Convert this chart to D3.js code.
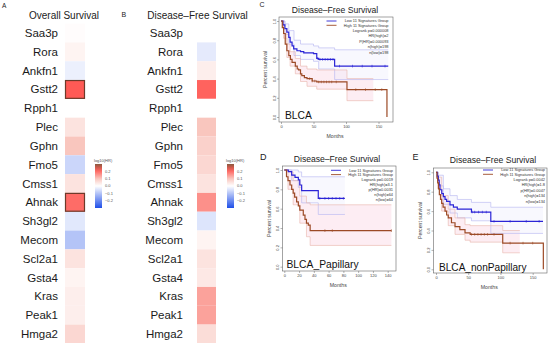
<!DOCTYPE html>
<html>
<head>
<meta charset="utf-8">
<script src="https://cdn.jsdelivr.net/npm/d3@7"></script>
<style>
  body { margin: 0; background: #fff; }
  svg { font-family: "Liberation Sans", Arial, sans-serif; }
</style>
</head>
<body>
<svg width="550" height="343"></svg>
<script>
// ---- heatmap data ----
var genes = ["Saa3p","Rora","Ankfn1","Gstt2","Rpph1","Plec","Gphn","Fmo5","Cmss1","Ahnak","Sh3gl2","Mecom","Scl2a1","Gsta4","Kras","Peak1","Hmga2"];
var osLogHR  = [0.005, 0.02, -0.025, 0.22, 0.0, 0.05, 0.1, -0.07, 0.05, 0.2, -0.04, -0.1, 0.05, 0.02, 0.03, 0.03, 0.07];
var dfsLogHR = [0.0, -0.035, 0.03, 0.21, 0.0, 0.1, 0.08, 0.07, 0.05, 0.16, -0.045, 0.02, 0.05, 0.04, 0.14, 0.14, 0.06];
var osSignif = ["Gstt2", "Ahnak"];
var legendTicks = [0.2, 0.1, 0.0, -0.1, -0.2];

// ---- survival data: [months, survival] steps ----
var cLow  = [[0,1],[3,0.96],[6,0.92],[9,0.885],[12,0.83],[14,0.78],[17,0.74],[19.5,0.71],[24.5,0.69],[30,0.68],[35,0.667],[50,0.66],[55,0.61],[58,0.6],[82.5,0.53],[165,0.53]];
var cHigh = [[0,1],[2,0.93],[4,0.87],[6.5,0.76],[9,0.69],[12,0.64],[14.5,0.6],[17,0.57],[22,0.53],[25,0.5],[27,0.49],[30,0.45],[32,0.43],[36,0.41],[40,0.4],[48,0.375],[55,0.365],[101.5,0.285],[163,0]];
// [months, lower, upper]
var cLowCI  = [[0,1,1],[6,0.86,0.97],[12,0.76,0.9],[20,0.64,0.8],[30,0.6,0.76],[50,0.58,0.74],[58,0.5,0.72],[82.5,0.39,0.7],[165,0.39,0.7]];
var cHighCI = [[0,1,1],[4,0.82,0.92],[9,0.62,0.76],[14,0.53,0.68],[22,0.45,0.61],[30,0.37,0.53],[40,0.32,0.5],[55,0.29,0.49],[101.5,0.17,0.4],[142,0.17,0.4]];
var cLowCens  = [56,60,64,68,72,76,80,90,110,125,140,160];
var cHighCens = [44,48,52,58,62,66,70,74,78,85,115,130,145,155];

var dLow  = [[0,1],[5.4,0.983],[10,0.948],[14.5,0.924],[19,0.897],[21,0.845],[23.5,0.786],[46,0.707],[82,0.707]];
var dHigh = [[0,1],[3,0.93],[5,0.89],[7.7,0.845],[10,0.8],[12,0.76],[14,0.72],[16.7,0.67],[19,0.63],[21,0.586],[25.7,0.534],[28,0.49],[30,0.45],[32.5,0.43],[35,0.373],[145,0.373]];
var dLowCI  = [[0,1,1],[10,0.89,1],[19,0.82,0.98],[23.5,0.66,0.93],[46,0.54,0.93],[82,0.54,0.93]];
var dHighCI = [[0,1,1],[5,0.8,0.98],[12,0.64,0.89],[21,0.45,0.73],[30,0.31,0.66],[35,0.22,0.64],[145,0.22,0.64]];
var dLowCens  = [48,55,60,65,70,75,80];
var dHighCens = [55,65,145];

var eLow  = [[0,1],[2,0.96],[3.6,0.92],[5,0.87],[6.2,0.82],[9,0.78],[11.4,0.75],[14,0.72],[16.5,0.7],[21.7,0.665],[27,0.64],[33,0.62],[55,0.59],[85,0.495],[166,0.495]];
var eHigh = [[0,1],[1.5,0.94],[2.6,0.89],[4,0.83],[5.2,0.77],[7,0.72],[8.8,0.68],[11,0.64],[14,0.6],[16.5,0.56],[19,0.53],[24,0.48],[29.5,0.44],[37,0.41],[45,0.375],[53,0.36],[103.5,0.27],[166.5,0]];
var eLowCI  = [[0,1,1],[3.6,0.86,0.97],[11.4,0.67,0.83],[21.7,0.58,0.76],[33,0.53,0.72],[55,0.5,0.69],[85,0.37,0.64],[166,0.37,0.64]];
var eHighCI = [[0,1,1],[2.6,0.83,0.95],[8.8,0.6,0.76],[19,0.45,0.62],[29.5,0.36,0.53],[45,0.3,0.46],[53,0.28,0.45],[103.5,0.17,0.4],[130,0.17,0.4]];
var eLowCens  = [56,60,66,72,78,90,115,140,160];
var eHighCens = [55,60,65,70,75,80,90,115,135,150];

var legendNames = ["Low 11 Signatures Group", "High 11 Signatures Group"];
var cStats = ["Logrank p=0.000008", "HR(high)=2", "P(HR)=0.000093", "n(high)=198", "n(low)=198"];
var dStats = ["Logrank p=0.0019", "HR(high)=3.1", "p(HR)=0.0031", "n(high)=64", "n(low)=64"];
var eStats = ["Logrank p=0.0042", "HR(high)=1.8", "p(HR)=0.0047", "n(high)=134", "n(low)=134"];
var survTicks = [0, 0.2, 0.4, 0.6, 0.8, 1.0];

var svg = d3.select("svg");

/* colour scale for log10(HR) */
var color = d3.scaleLinear()
    .domain([-0.3, 0, 0.1, 0.22, 0.3])
    .range(["#1f4fe8", "#ffffff", "#f9c6be", "#ff5a55", "#8a5a40"]);

var rowY = d3.scaleBand().domain(genes).range([23.6, 343.4]);

function heatmap(x0, x1, labelX, values, signif) {
    var g = svg.append("g");
    g.selectAll("rect").data(genes).enter().append("rect")
        .attr("x", x0)
        .attr("y", function(d) { return rowY(d); })
        .attr("width", x1 - x0)
        .attr("height", rowY.bandwidth())
        .attr("fill", function(d, i) { return color(values[i]); });
    g.selectAll("rect.sig").data(genes.filter(function(d) { return signif.indexOf(d) >= 0; }))
        .enter().append("rect")
        .attr("x", x0 + 0.5)
        .attr("y", function(d) { return rowY(d) + 0.5; })
        .attr("width", x1 - x0 - 1)
        .attr("height", rowY.bandwidth() - 1)
        .attr("fill", "none")
        .attr("stroke", "#6e3a2a")
        .attr("stroke-width", 1.2);
    g.selectAll("text").data(genes).enter().append("text")
        .attr("x", labelX)
        .attr("y", function(d) { return rowY(d) + rowY.bandwidth() / 2 + 4; })
        .attr("text-anchor", "end")
        .attr("font-size", 11.5)
        .attr("fill", "#1a1a1a")
        .text(function(d) { return d; });
}

heatmap(65, 85, 58, osLogHR, osSignif);
heatmap(197, 216, 183, dfsLogHR, []);

/* colour bar legends */
var defs = svg.append("defs");
var grad = defs.append("linearGradient").attr("id", "cbar")
    .attr("x1", 0).attr("y1", 0).attr("x2", 0).attr("y2", 1);
d3.range(0.3, -0.31, -0.05).forEach(function(v, i, arr) {
    grad.append("stop").attr("offset", i / (arr.length - 1)).attr("stop-color", color(v));
});
var barY = d3.scaleLinear().domain([-0.3, 0.3]).range([208, 164]);

function colorLegend(x) {
    var g = svg.append("g");
    g.append("text").attr("x", x - 1).attr("y", 162).attr("font-size", 4).attr("fill", "#555").text("log10(HR)");
    g.append("rect").attr("x", x).attr("y", barY(0.3)).attr("width", 7).attr("height", barY(-0.3) - barY(0.3))
        .attr("fill", "url(#cbar)");
    g.selectAll("text.t").data(legendTicks).enter().append("text")
        .attr("x", x + 10)
        .attr("y", function(d) { return barY(d) + 1.4; })
        .attr("font-size", 4)
        .attr("fill", "#555")
        .text(function(d) { return d3.format(".1f")(d).replace("-", "\u2212"); });
}
colorLegend(95);
colorLegend(227);

/* titles and panel letters */
function label(x, y, size, txt, anchor) {
    svg.append("text").attr("x", x).attr("y", y).attr("font-size", size)
        .attr("text-anchor", anchor || "start").attr("fill", "#222").text(txt);
}
label(2, 7.5, 6.5, "A");
label(121.5, 17.3, 7, "B");
label(259.5, 7, 7, "C");
label(260, 160, 9, "D");
label(412.5, 160, 9, "E");
label(64, 18.5, 10, "Overall Survival", "middle");
label(197.5, 19, 10, "Disease\u2013Free Survival", "middle");
label(335, 13, 8.6, "Disease\u2013Free Survival", "middle");
label(337, 162.3, 8.6, "Disease\u2013Free Survival", "middle");
label(493, 162.7, 8.6, "Disease\u2013Free Survival", "middle");

/* Kaplan-Meier panels */
function stepValue(curve, m) {
    var v = curve[0][1];
    for (var i = 0; i < curve.length; i++) { if (curve[i][0] <= m) v = curve[i][1]; }
    return v;
}

function km(p) {
    var g = svg.append("g");
    var x = d3.scaleLinear().domain([0, p.xMax]).range([p.x0, p.x1]);
    var y = d3.scaleLinear().domain([0, 1]).range([p.y0, p.y1]);

    var ciArea = d3.area().curve(d3.curveStepAfter)
        .x(function(d) { return x(d[0]); }).y0(function(d) { return y(d[1]); }).y1(function(d) { return y(d[2]); });
    g.append("path").datum(p.highCI).attr("d", ciArea).attr("fill", "#fbd7e5").attr("opacity", 0.45);
    g.append("path").datum(p.lowCI).attr("d", ciArea).attr("fill", "#ebebfb").attr("opacity", 0.35);

    var ciLine = function(k) {
        return d3.line().curve(d3.curveStepAfter).x(function(d) { return x(d[0]); }).y(function(d) { return y(d[k]); });
    };
    [1, 2].forEach(function(k) {
        g.append("path").datum(p.lowCI).attr("d", ciLine(k)).attr("fill", "none")
            .attr("stroke", "#b4b4f0").attr("stroke-width", 0.6);
        g.append("path").datum(p.highCI).attr("d", ciLine(k)).attr("fill", "none")
            .attr("stroke", "#e8b4aa").attr("stroke-width", 0.6);
    });

    var line = d3.line().curve(d3.curveStepAfter)
        .x(function(d) { return x(d[0]); }).y(function(d) { return y(d[1]); });
    g.append("path").datum(p.low).attr("d", line).attr("fill", "none").attr("stroke", "#2b24d6").attr("stroke-width", 1.2);
    g.append("path").datum(p.high).attr("d", line).attr("fill", "none").attr("stroke", "#9c4a26").attr("stroke-width", 1.2);

    g.selectAll("line.cl").data(p.lowCens).enter().append("line")
        .attr("x1", function(d) { return x(d); }).attr("x2", function(d) { return x(d); })
        .attr("y1", function(d) { return y(stepValue(p.low, d)) - 1.3; })
        .attr("y2", function(d) { return y(stepValue(p.low, d)) + 1.3; })
        .attr("stroke", "#2b24d6").attr("stroke-width", 0.6);
    g.selectAll("line.ch").data(p.highCens).enter().append("line")
        .attr("x1", function(d) { return x(d); }).attr("x2", function(d) { return x(d); })
        .attr("y1", function(d) { return y(stepValue(p.high, d)) - 1.3; })
        .attr("y2", function(d) { return y(stepValue(p.high, d)) + 1.3; })
        .attr("stroke", "#9c4a26").attr("stroke-width", 0.6);

    // frame
    g.append("rect").attr("x", p.fx0).attr("y", p.fy0)
        .attr("width", p.fx1 - p.fx0).attr("height", p.fy1 - p.fy0)
        .attr("fill", "none").attr("stroke", "#666").attr("stroke-width", 0.6);

    var yAxis = g.append("g").attr("transform", "translate(" + p.fx0 + ",0)")
        .call(d3.axisLeft(y).tickValues(survTicks).tickSize(2).tickFormat(d3.format(".1f")));
    yAxis.select(".domain").remove();
    yAxis.selectAll("line").attr("stroke", "#666").attr("stroke-width", 0.5);
    yAxis.selectAll("text").attr("x", 0).attr("y", -3.2).attr("dy", 0)
        .attr("transform", "rotate(-90)").attr("text-anchor", "middle")
        .attr("font-size", 4).attr("fill", "#444").attr("font-family", null);

    var xAxis = g.append("g").attr("transform", "translate(0," + p.fy1 + ")")
        .call(d3.axisBottom(x).tickValues(p.xTicks).tickSize(2));
    xAxis.select(".domain").remove();
    xAxis.selectAll("line").attr("stroke", "#666").attr("stroke-width", 0.5);
    xAxis.selectAll("text").attr("y", 3.2).attr("dy", "0.75em")
        .attr("font-size", 4).attr("fill", "#444").attr("font-family", null);

    g.append("text").attr("x", (p.fx0 + p.fx1) / 2 - 1).attr("y", p.fy1 + 16)
        .attr("text-anchor", "middle").attr("font-size", 5.2).attr("fill", "#444").text("Months");
    g.append("text").attr("transform", "translate(" + (p.fx0 - 12) + "," + ((p.fy0 + p.fy1) / 2) + ") rotate(-90)")
        .attr("text-anchor", "middle").attr("font-size", 5.2).attr("fill", "#444").text("Percent survival");

    // legend
    var colors = ["#2b24d6", "#9c4a26"];
    legendNames.forEach(function(n, i) {
        var ly = p.legY + i * 4.3;
        g.append("line").attr("x1", p.legX1 - 62).attr("x2", p.legX1 - 52)
            .attr("y1", ly).attr("y2", ly).attr("stroke", colors[i]).attr("stroke-width", 0.9);
        g.append("text").attr("x", p.legX1).attr("y", ly + 1.3).attr("text-anchor", "end")
            .attr("font-size", 3.9).attr("fill", "#333").text(n);
    });
    p.stats.forEach(function(s, i) {
        g.append("text").attr("x", p.legX1).attr("y", p.legY + 10.5 + i * p.statGap)
            .attr("text-anchor", "end").attr("font-size", 3.9).attr("fill", "#333").text(s);
    });

    g.append("text").attr("x", p.tagX).attr("y", p.tagY).attr("font-size", p.tagSize)
        .attr("fill", "#111").text(p.tag);
}

km({ low: cLow, high: cHigh, lowCI: cLowCI, highCI: cHighCI, lowCens: cLowCens, highCens: cHighCens,
     xMax: 150, x0: 281, x1: 378.5, y0: 117, y1: 21, fx0: 279, fx1: 393, fy0: 17, fy1: 122,
     xTicks: [0, 50, 100, 150], stats: cStats, legX1: 388.5, legY: 21, statGap: 5.5,
     tag: "BLCA", tagX: 285, tagY: 119, tagSize: 10.3 });

km({ low: dLow, high: dHigh, lowCI: dLowCI, highCI: dHighCI, lowCens: dLowCens, highCens: dHighCens,
     xMax: 140, x0: 284.3, x1: 387.7, y0: 266.7, y1: 170, fx0: 282.5, fx1: 396, fy0: 166, fy1: 271,
     xTicks: [0, 20, 40, 60, 80, 100, 120, 140], stats: dStats, legX1: 393, legY: 170.3, statGap: 5,
     tag: "BLCA_Papillary", tagX: 286.5, tagY: 268, tagSize: 10.3 });

km({ low: eLow, high: eHigh, lowCI: eLowCI, highCI: eHighCI, lowCens: eLowCens, highCens: eHighCens,
     xMax: 150, x0: 436, x1: 532.7, y0: 269.3, y1: 172.3, fx0: 433.5, fx1: 547, fy0: 168, fy1: 273,
     xTicks: [0, 50, 100, 150], stats: eStats, legX1: 545, legY: 170, statGap: 5.6,
     tag: "BLCA_nonPapillary", tagX: 439, tagY: 271, tagSize: 10.1 });
</script>
</body>
</html>
